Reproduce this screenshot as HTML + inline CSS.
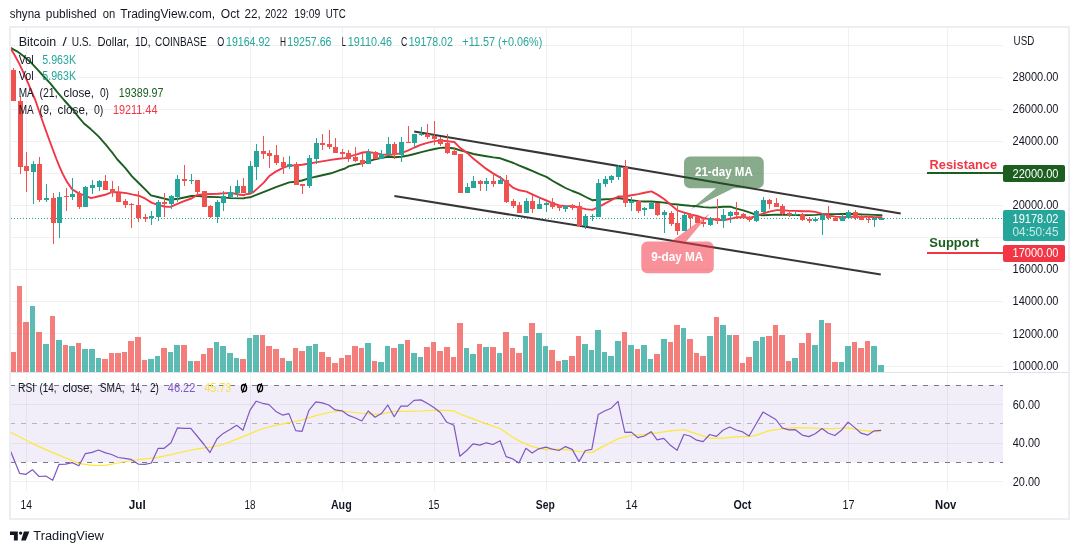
<!DOCTYPE html>
<html><head><meta charset="utf-8"><title>BTCUSD chart</title>
<style>html,body{margin:0;padding:0;background:#fff;}body{width:1079px;height:554px;overflow:hidden;font-family:"Liberation Sans",sans-serif;}svg{display:block;will-change:transform;transform:translateZ(0)}</style>
</head><body>
<svg width="1079" height="554" viewBox="0 0 1079 554" font-family="'Liberation Sans', sans-serif">
<rect width="1079" height="554" fill="#fff"/>
<text x="9.7" y="18.3" font-size="12" fill="#131722" font-weight="normal" text-anchor="start" textLength="30.8" lengthAdjust="spacingAndGlyphs">shyna</text>
<text x="45.8" y="18.3" font-size="12" fill="#131722" font-weight="normal" text-anchor="start" textLength="50.9" lengthAdjust="spacingAndGlyphs">published</text>
<text x="102.8" y="18.3" font-size="12" fill="#131722" font-weight="normal" text-anchor="start" textLength="12.5" lengthAdjust="spacingAndGlyphs">on</text>
<text x="120.3" y="18.3" font-size="12" fill="#131722" font-weight="normal" text-anchor="start" textLength="94.7" lengthAdjust="spacingAndGlyphs">TradingView.com,</text>
<text x="220.8" y="18.3" font-size="12" fill="#131722" font-weight="normal" text-anchor="start" textLength="18.7" lengthAdjust="spacingAndGlyphs">Oct</text>
<text x="244.5" y="18.3" font-size="12" fill="#131722" font-weight="normal" text-anchor="start" textLength="16.3" lengthAdjust="spacingAndGlyphs">22,</text>
<text x="265" y="18.3" font-size="12" fill="#131722" font-weight="normal" text-anchor="start" textLength="22.5" lengthAdjust="spacingAndGlyphs">2022</text>
<text x="294.2" y="18.3" font-size="12" fill="#131722" font-weight="normal" text-anchor="start" textLength="26.1" lengthAdjust="spacingAndGlyphs">19:09</text>
<text x="325.8" y="18.3" font-size="12" fill="#131722" font-weight="normal" text-anchor="start" textLength="20" lengthAdjust="spacingAndGlyphs">UTC</text>
<rect x="10" y="27" width="1059" height="492" fill="#fff" stroke="#eceef4" stroke-width="2"/>
<defs><clipPath id="pane"><rect x="11" y="28" width="992" height="462"/></clipPath><clipPath id="main"><rect x="11" y="28" width="992" height="344"/></clipPath><clipPath id="rsi"><rect x="11" y="373" width="992" height="117"/></clipPath></defs>
<path d="M26.5 28V491 M138.5 28V491 M250.5 28V491 M342.5 28V491 M434.5 28V491 M546.5 28V491 M631.5 28V491 M743.5 28V491 M848.5 28V491 M947.5 28V491" stroke="#2a2e39" stroke-opacity="0.065" stroke-width="1" fill="none" shape-rendering="crispEdges"/>
<path d="M11 45.5H1003 M11 77.5H1003 M11 109.5H1003 M11 141.5H1003 M11 173.5H1003 M11 205.5H1003 M11 237.5H1003 M11 269.5H1003 M11 301.5H1003 M11 333.5H1003 M11 366.5H1003 M11 404.5H1003 M11 443.5H1003 M11 481.5H1003" stroke="#2a2e39" stroke-opacity="0.065" stroke-width="1" fill="none" shape-rendering="crispEdges"/>
<path d="M11 372.5H1068" stroke="#e0e3eb" stroke-width="1" shape-rendering="crispEdges"/>
<rect x="11" y="385" width="992" height="77" fill="#7e57c2" fill-opacity="0.1"/>
<path d="M10 385.5H1003" clip-path="url(#pane)" stroke="#787b86" stroke-width="1" stroke-dasharray="5,6" shape-rendering="crispEdges"/>
<path d="M10 423.5H1003" clip-path="url(#pane)" stroke="#787b86" stroke-opacity="0.5" stroke-width="1" stroke-dasharray="5,6" shape-rendering="crispEdges"/>
<path d="M10 462.5H1003" clip-path="url(#pane)" stroke="#787b86" stroke-width="1" stroke-dasharray="5,6" shape-rendering="crispEdges"/>
<g clip-path="url(#main)" shape-rendering="crispEdges" fill-opacity="0.75">
<rect x="10" y="352" width="6" height="20" fill="#ef5350"/>
<rect x="17" y="286" width="5" height="86" fill="#ef5350"/>
<rect x="23" y="322" width="6" height="50" fill="#ef5350"/>
<rect x="30" y="306" width="5" height="66" fill="#26a69a"/>
<rect x="36" y="332" width="6" height="40" fill="#ef5350"/>
<rect x="43" y="344" width="6" height="28" fill="#26a69a"/>
<rect x="50" y="316" width="5" height="56" fill="#ef5350"/>
<rect x="56" y="340" width="6" height="32" fill="#26a69a"/>
<rect x="63" y="345" width="5" height="27" fill="#ef5350"/>
<rect x="69" y="346" width="6" height="26" fill="#26a69a"/>
<rect x="76" y="343" width="5" height="29" fill="#ef5350"/>
<rect x="82" y="349" width="6" height="23" fill="#26a69a"/>
<rect x="89" y="349" width="6" height="23" fill="#26a69a"/>
<rect x="96" y="358" width="5" height="14" fill="#26a69a"/>
<rect x="102" y="359" width="6" height="13" fill="#ef5350"/>
<rect x="109" y="353" width="5" height="19" fill="#ef5350"/>
<rect x="115" y="353" width="6" height="19" fill="#ef5350"/>
<rect x="122" y="352" width="5" height="20" fill="#ef5350"/>
<rect x="128" y="341" width="6" height="31" fill="#ef5350"/>
<rect x="135" y="337" width="6" height="35" fill="#ef5350"/>
<rect x="142" y="360" width="5" height="12" fill="#ef5350"/>
<rect x="148" y="359" width="6" height="13" fill="#26a69a"/>
<rect x="155" y="356" width="5" height="16" fill="#26a69a"/>
<rect x="161" y="348" width="6" height="24" fill="#ef5350"/>
<rect x="168" y="352" width="5" height="20" fill="#26a69a"/>
<rect x="174" y="345" width="6" height="27" fill="#26a69a"/>
<rect x="181" y="345" width="6" height="27" fill="#ef5350"/>
<rect x="188" y="361" width="5" height="11" fill="#26a69a"/>
<rect x="194" y="361" width="6" height="11" fill="#ef5350"/>
<rect x="201" y="354" width="5" height="18" fill="#ef5350"/>
<rect x="207" y="348" width="6" height="24" fill="#ef5350"/>
<rect x="214" y="342" width="5" height="30" fill="#26a69a"/>
<rect x="220" y="346" width="6" height="26" fill="#26a69a"/>
<rect x="227" y="353" width="6" height="19" fill="#26a69a"/>
<rect x="234" y="358" width="5" height="14" fill="#26a69a"/>
<rect x="240" y="359" width="6" height="13" fill="#ef5350"/>
<rect x="247" y="338" width="5" height="34" fill="#26a69a"/>
<rect x="253" y="335" width="6" height="37" fill="#26a69a"/>
<rect x="260" y="335" width="5" height="37" fill="#ef5350"/>
<rect x="266" y="346" width="6" height="26" fill="#ef5350"/>
<rect x="273" y="349" width="6" height="23" fill="#ef5350"/>
<rect x="280" y="358" width="5" height="14" fill="#ef5350"/>
<rect x="286" y="361" width="6" height="11" fill="#26a69a"/>
<rect x="293" y="348" width="5" height="24" fill="#ef5350"/>
<rect x="299" y="351" width="6" height="21" fill="#ef5350"/>
<rect x="306" y="346" width="6" height="26" fill="#26a69a"/>
<rect x="313" y="344" width="5" height="28" fill="#26a69a"/>
<rect x="319" y="352" width="6" height="20" fill="#ef5350"/>
<rect x="326" y="357" width="5" height="15" fill="#ef5350"/>
<rect x="332" y="363" width="6" height="9" fill="#ef5350"/>
<rect x="339" y="358" width="5" height="14" fill="#ef5350"/>
<rect x="345" y="355" width="6" height="17" fill="#ef5350"/>
<rect x="352" y="346" width="6" height="26" fill="#ef5350"/>
<rect x="359" y="348" width="5" height="24" fill="#ef5350"/>
<rect x="365" y="343" width="6" height="29" fill="#26a69a"/>
<rect x="372" y="361" width="5" height="11" fill="#ef5350"/>
<rect x="378" y="362" width="6" height="10" fill="#26a69a"/>
<rect x="385" y="346" width="5" height="26" fill="#26a69a"/>
<rect x="391" y="348" width="6" height="24" fill="#ef5350"/>
<rect x="398" y="344" width="6" height="28" fill="#26a69a"/>
<rect x="405" y="340" width="5" height="32" fill="#ef5350"/>
<rect x="411" y="353" width="6" height="19" fill="#26a69a"/>
<rect x="418" y="357" width="5" height="15" fill="#26a69a"/>
<rect x="424" y="347" width="6" height="25" fill="#ef5350"/>
<rect x="431" y="342" width="5" height="30" fill="#ef5350"/>
<rect x="437" y="351" width="6" height="21" fill="#ef5350"/>
<rect x="444" y="347" width="6" height="25" fill="#ef5350"/>
<rect x="451" y="357" width="5" height="15" fill="#ef5350"/>
<rect x="457" y="323" width="6" height="49" fill="#ef5350"/>
<rect x="464" y="348" width="5" height="24" fill="#26a69a"/>
<rect x="470" y="354" width="6" height="18" fill="#26a69a"/>
<rect x="477" y="344" width="5" height="28" fill="#ef5350"/>
<rect x="483" y="347" width="6" height="25" fill="#26a69a"/>
<rect x="490" y="347" width="6" height="25" fill="#ef5350"/>
<rect x="497" y="353" width="5" height="19" fill="#26a69a"/>
<rect x="503" y="332" width="6" height="40" fill="#ef5350"/>
<rect x="510" y="348" width="5" height="24" fill="#ef5350"/>
<rect x="516" y="353" width="6" height="19" fill="#ef5350"/>
<rect x="523" y="336" width="5" height="36" fill="#26a69a"/>
<rect x="529" y="323" width="6" height="49" fill="#ef5350"/>
<rect x="536" y="333" width="6" height="39" fill="#26a69a"/>
<rect x="543" y="346" width="5" height="26" fill="#26a69a"/>
<rect x="549" y="350" width="6" height="22" fill="#ef5350"/>
<rect x="556" y="361" width="5" height="11" fill="#ef5350"/>
<rect x="562" y="360" width="6" height="12" fill="#26a69a"/>
<rect x="569" y="356" width="6" height="16" fill="#ef5350"/>
<rect x="576" y="336" width="5" height="36" fill="#ef5350"/>
<rect x="582" y="344" width="6" height="28" fill="#26a69a"/>
<rect x="589" y="350" width="5" height="22" fill="#26a69a"/>
<rect x="595" y="330" width="6" height="42" fill="#26a69a"/>
<rect x="602" y="352" width="5" height="20" fill="#26a69a"/>
<rect x="608" y="356" width="6" height="16" fill="#26a69a"/>
<rect x="615" y="341" width="6" height="31" fill="#26a69a"/>
<rect x="622" y="332" width="5" height="40" fill="#ef5350"/>
<rect x="628" y="345" width="6" height="27" fill="#26a69a"/>
<rect x="635" y="349" width="5" height="23" fill="#ef5350"/>
<rect x="641" y="345" width="6" height="27" fill="#26a69a"/>
<rect x="648" y="359" width="5" height="13" fill="#26a69a"/>
<rect x="654" y="354" width="6" height="18" fill="#ef5350"/>
<rect x="661" y="339" width="6" height="33" fill="#26a69a"/>
<rect x="668" y="342" width="5" height="30" fill="#ef5350"/>
<rect x="674" y="325" width="6" height="47" fill="#ef5350"/>
<rect x="681" y="328" width="5" height="44" fill="#26a69a"/>
<rect x="687" y="339" width="6" height="33" fill="#ef5350"/>
<rect x="694" y="353" width="5" height="19" fill="#ef5350"/>
<rect x="700" y="356" width="6" height="16" fill="#ef5350"/>
<rect x="707" y="336" width="6" height="36" fill="#26a69a"/>
<rect x="714" y="317" width="5" height="55" fill="#ef5350"/>
<rect x="720" y="325" width="6" height="47" fill="#26a69a"/>
<rect x="727" y="335" width="5" height="37" fill="#26a69a"/>
<rect x="733" y="335" width="6" height="37" fill="#ef5350"/>
<rect x="740" y="363" width="5" height="9" fill="#ef5350"/>
<rect x="746" y="357" width="6" height="15" fill="#ef5350"/>
<rect x="753" y="341" width="6" height="31" fill="#26a69a"/>
<rect x="760" y="337" width="5" height="35" fill="#26a69a"/>
<rect x="766" y="336" width="6" height="36" fill="#ef5350"/>
<rect x="773" y="325" width="5" height="47" fill="#ef5350"/>
<rect x="779" y="335" width="6" height="37" fill="#ef5350"/>
<rect x="786" y="361" width="5" height="11" fill="#ef5350"/>
<rect x="792" y="358" width="6" height="14" fill="#26a69a"/>
<rect x="799" y="343" width="6" height="29" fill="#ef5350"/>
<rect x="806" y="333" width="5" height="39" fill="#ef5350"/>
<rect x="812" y="345" width="6" height="27" fill="#26a69a"/>
<rect x="819" y="320" width="5" height="52" fill="#26a69a"/>
<rect x="825" y="323" width="6" height="49" fill="#ef5350"/>
<rect x="832" y="362" width="6" height="10" fill="#ef5350"/>
<rect x="839" y="362" width="5" height="10" fill="#26a69a"/>
<rect x="845" y="346" width="6" height="26" fill="#26a69a"/>
<rect x="852" y="342" width="5" height="30" fill="#ef5350"/>
<rect x="858" y="348" width="6" height="24" fill="#ef5350"/>
<rect x="865" y="341" width="5" height="31" fill="#ef5350"/>
<rect x="871" y="346" width="6" height="26" fill="#26a69a"/>
<rect x="878" y="365" width="6" height="7" fill="#26a69a"/>
</g>
<path d="M11 218.5H1003" stroke="#26a69a" stroke-width="1" stroke-dasharray="1,2" shape-rendering="crispEdges"/>
<path d="M10.5 47.9 L17.0 51.3 L23.7 56.3 L30.4 61.9 L37.1 69.2 L43.8 76.5 L50.5 83.7 L57.3 92.1 L64.0 100.0 L68.5 105.0 L72.8 109.5 L78.4 116.8 L84.0 123.5 L90.7 129.1 L98.5 136.4 L106.4 145.3 L110.1 150.0 L113.1 153.7 L117.4 159.5 L125.2 167.9 L132.0 176.3 L138.7 183.0 L145.4 189.7 L151.0 195.3 L157.7 197.0 L164.4 198.7 L168.0 199.5 L169.1 199.8 L178.4 198.7 L191.4 196.0 L197.4 195.8 L204.9 196.8 L217.9 197.1 L230.9 198.1 L243.9 198.4 L245.0 197.9 L250.1 197.3 L257.6 194.4 L264.0 191.8 L270.3 189.3 L276.6 186.8 L282.9 184.6 L289.2 182.4 L295.6 181.7 L301.9 180.5 L308.2 178.6 L315.8 176.7 L323.4 175.0 L331.0 173.3 L338.6 170.7 L345.0 168.5 L348.6 166.4 L355.4 164.6 L362.5 163.2 L368.4 161.4 L375.3 159.2 L381.5 157.9 L388.4 156.8 L394.5 157.2 L401.4 156.8 L408.3 155.5 L414.4 154.0 L421.3 152.2 L427.4 150.7 L434.5 149.0 L440.4 147.9 L447.3 147.5 L454.3 148.5 L460.3 150.3 L467.4 152.2 L473.5 154.0 L480.4 155.3 L486.3 156.3 L493.4 157.4 L500.4 158.3 L506.4 160.5 L513.5 163.0 L519.4 165.6 L526.5 168.5 L532.8 171.1 L539.5 174.1 L546.4 176.9 L552.9 181.0 L559.4 184.7 L565.5 188.0 L572.4 191.0 L579.3 193.7 L585.8 197.0 L592.3 200.2 L598.3 199.8 L605.3 199.3 L611.3 198.9 L618.3 198.0 L625.4 199.3 L631.3 200.2 L638.4 201.1 L644.3 201.5 L651.4 201.5 L657.4 202.0 L664.4 202.6 L671.3 203.9 L677.4 204.5 L684.3 205.2 L690.4 205.8 L697.3 206.3 L703.5 207.1 L710.3 207.6 L717.4 207.2 L723.3 206.7 L730.2 206.7 L736.4 208.6 L743.2 210.4 L749.4 212.3 L756.4 214.8 L763.5 215.2 L776.5 214.6 L789.4 214.9 L802.5 215.3 L815.5 214.9 L822.5 214.1 L835.6 214.1 L848.5 213.8 L861.5 214.4 L874.4 214.9 L881.6 215.2" stroke="#1b5e20" stroke-width="1.9" fill="none" stroke-linejoin="round" stroke-linecap="round" clip-path="url(#main)"/>
<path d="M10.5 48.5 L14.7 55.2 L19.2 63.6 L23.7 73.1 L28.1 83.2 L32.6 93.8 L35.3 100.0 L39.2 111.5 L43.7 124.5 L48.2 137.0 L53.0 150.0 L56.4 159.0 L59.8 167.4 L63.1 174.6 L67.0 181.9 L72.1 189.2 L78.2 193.1 L85.5 195.9 L91.1 198.1 L97.8 196.5 L105.1 194.8 L111.2 192.3 L118.5 192.3 L126.4 193.1 L133.1 194.6 L138.7 195.7 L145.4 198.7 L151.5 202.6 L157.7 204.9 L164.4 206.5 L168.0 206.9 L171.0 206.7 L177.5 203.9 L184.0 201.1 L191.4 198.5 L197.4 195.0 L204.9 194.3 L217.9 193.8 L230.9 192.9 L237.4 194.3 L243.9 195.3 L245.0 194.4 L250.1 193.7 L252.6 192.7 L257.6 188.4 L264.0 182.4 L269.0 176.3 L275.3 171.9 L282.9 167.8 L289.2 165.7 L295.6 165.3 L301.9 164.7 L308.2 163.8 L315.8 162.4 L323.4 161.1 L331.0 159.9 L338.6 158.7 L345.0 158.1 L348.6 156.6 L355.4 154.8 L362.5 152.5 L368.4 152.0 L375.3 153.1 L381.5 154.4 L388.4 155.0 L394.5 154.4 L401.4 153.1 L408.3 150.3 L414.4 147.5 L421.3 144.7 L427.4 142.8 L434.5 141.1 L440.9 140.6 L447.5 141.3 L454.3 142.0 L460.3 148.1 L467.4 153.1 L473.5 158.7 L480.4 164.3 L486.3 168.9 L493.4 173.6 L500.4 177.6 L506.4 182.3 L513.5 187.9 L519.4 190.3 L526.5 191.6 L532.8 194.6 L539.5 197.7 L546.4 200.5 L552.9 203.3 L559.4 205.5 L565.5 206.1 L572.4 206.1 L579.3 207.6 L585.8 209.1 L592.3 209.9 L598.3 207.1 L605.3 203.3 L611.3 200.2 L618.3 196.5 L625.4 196.5 L631.3 195.2 L638.4 194.1 L644.3 192.8 L651.4 191.4 L657.4 194.6 L664.4 199.3 L671.3 205.2 L677.4 210.4 L684.3 212.6 L690.4 214.5 L697.3 216.0 L703.5 218.2 L710.3 219.1 L717.4 219.7 L723.3 220.3 L730.2 218.8 L736.4 217.3 L743.2 217.3 L749.4 217.8 L756.4 216.0 L763.5 213.4 L769.5 211.6 L776.5 210.1 L782.4 210.1 L789.4 210.9 L795.4 210.9 L802.5 211.2 L809.2 211.2 L815.5 211.9 L822.5 213.8 L828.7 215.6 L835.6 216.6 L842.5 217.1 L848.5 216.8 L855.6 216.6 L861.5 216.8 L868.5 216.8 L874.4 217.1 L881.6 217.1" stroke="#f23645" stroke-width="1.9" fill="none" stroke-linejoin="round" stroke-linecap="round" clip-path="url(#main)"/>
<path d="M414.2 131.6L900.7 213.6" stroke="#363636" stroke-width="2.05" stroke-linecap="butt"/>
<path d="M394.4 196.0L880.8 274.4" stroke="#363636" stroke-width="2.05" stroke-linecap="butt"/>
<path d="M690 156.6H757.8a6 6 0 0 1 6 6V182.3a6 6 0 0 1 -6 6H733.4L690.8 209.2L716 188.3H690a6 6 0 0 1 -6 -6V162.6a6 6 0 0 1 6 -6Z" fill="#1b5e20" fill-opacity="0.52"/>
<text x="723.9" y="175.8" font-size="12" fill="#fff" font-weight="bold" text-anchor="middle" textLength="57.8" lengthAdjust="spacingAndGlyphs">21-day MA</text>
<path d="M647.3 241.5H671.1L710 213.3L686.3 241.5H707.8a6 6 0 0 1 6 6V267.2a6 6 0 0 1 -6 6H647.3a6 6 0 0 1 -6 -6V247.5a6 6 0 0 1 6 -6Z" fill="#f23645" fill-opacity="0.55"/>
<text x="677.2" y="260.8" font-size="12" fill="#fff" font-weight="bold" text-anchor="middle" textLength="52.1" lengthAdjust="spacingAndGlyphs">9-day MA</text>
<g clip-path="url(#main)" shape-rendering="crispEdges">
<rect x="13" y="68" width="1" height="33" fill="#ef5350"/>
<rect x="11" y="70" width="5" height="31" fill="#ef5350"/>
<rect x="20" y="96" width="1" height="78" fill="#ef5350"/>
<rect x="18" y="101" width="5" height="66" fill="#ef5350"/>
<rect x="26" y="152" width="1" height="40" fill="#ef5350"/>
<rect x="24" y="166" width="5" height="5" fill="#ef5350"/>
<rect x="33" y="161" width="1" height="43" fill="#26a69a"/>
<rect x="31" y="164" width="5" height="8" fill="#26a69a"/>
<rect x="39" y="157" width="1" height="45" fill="#ef5350"/>
<rect x="37" y="164" width="5" height="36" fill="#ef5350"/>
<rect x="46" y="184" width="1" height="18" fill="#26a69a"/>
<rect x="44" y="198" width="5" height="2" fill="#26a69a"/>
<rect x="53" y="193" width="1" height="51" fill="#ef5350"/>
<rect x="51" y="198" width="5" height="25" fill="#ef5350"/>
<rect x="59" y="192" width="1" height="46" fill="#26a69a"/>
<rect x="57" y="197" width="5" height="26" fill="#26a69a"/>
<rect x="66" y="188" width="1" height="23" fill="#ef5350"/>
<rect x="64" y="196" width="5" height="1" fill="#ef5350"/>
<rect x="72" y="178" width="1" height="22" fill="#26a69a"/>
<rect x="70" y="194" width="5" height="3" fill="#26a69a"/>
<rect x="79" y="191" width="1" height="18" fill="#ef5350"/>
<rect x="77" y="194" width="5" height="13" fill="#ef5350"/>
<rect x="85" y="186" width="1" height="21" fill="#26a69a"/>
<rect x="83" y="187" width="5" height="20" fill="#26a69a"/>
<rect x="92" y="180" width="1" height="14" fill="#26a69a"/>
<rect x="90" y="185" width="5" height="3" fill="#26a69a"/>
<rect x="99" y="180" width="1" height="11" fill="#26a69a"/>
<rect x="97" y="181" width="5" height="6" fill="#26a69a"/>
<rect x="105" y="175" width="1" height="15" fill="#ef5350"/>
<rect x="103" y="181" width="5" height="9" fill="#ef5350"/>
<rect x="112" y="181" width="1" height="16" fill="#ef5350"/>
<rect x="110" y="189" width="5" height="4" fill="#ef5350"/>
<rect x="118" y="186" width="1" height="16" fill="#ef5350"/>
<rect x="116" y="193" width="5" height="9" fill="#ef5350"/>
<rect x="125" y="199" width="1" height="9" fill="#ef5350"/>
<rect x="123" y="201" width="5" height="4" fill="#ef5350"/>
<rect x="131" y="203" width="1" height="25" fill="#ef5350"/>
<rect x="129" y="204" width="5" height="1" fill="#ef5350"/>
<rect x="138" y="191" width="1" height="31" fill="#ef5350"/>
<rect x="136" y="205" width="5" height="13" fill="#ef5350"/>
<rect x="145" y="214" width="1" height="8" fill="#ef5350"/>
<rect x="143" y="217" width="5" height="2" fill="#ef5350"/>
<rect x="151" y="211" width="1" height="14" fill="#26a69a"/>
<rect x="149" y="216" width="5" height="2" fill="#26a69a"/>
<rect x="158" y="200" width="1" height="21" fill="#26a69a"/>
<rect x="156" y="202" width="5" height="15" fill="#26a69a"/>
<rect x="164" y="193" width="1" height="24" fill="#ef5350"/>
<rect x="162" y="202" width="5" height="2" fill="#ef5350"/>
<rect x="171" y="195" width="1" height="14" fill="#26a69a"/>
<rect x="169" y="196" width="5" height="8" fill="#26a69a"/>
<rect x="177" y="175" width="1" height="27" fill="#26a69a"/>
<rect x="175" y="179" width="5" height="18" fill="#26a69a"/>
<rect x="184" y="165" width="1" height="21" fill="#ef5350"/>
<rect x="182" y="179" width="5" height="2" fill="#ef5350"/>
<rect x="191" y="174" width="1" height="10" fill="#26a69a"/>
<rect x="189" y="180" width="5" height="1" fill="#26a69a"/>
<rect x="197" y="180" width="1" height="15" fill="#ef5350"/>
<rect x="195" y="180" width="5" height="12" fill="#ef5350"/>
<rect x="204" y="191" width="1" height="16" fill="#ef5350"/>
<rect x="202" y="191" width="5" height="16" fill="#ef5350"/>
<rect x="210" y="205" width="1" height="13" fill="#ef5350"/>
<rect x="208" y="206" width="5" height="11" fill="#ef5350"/>
<rect x="217" y="200" width="1" height="23" fill="#26a69a"/>
<rect x="215" y="202" width="5" height="15" fill="#26a69a"/>
<rect x="223" y="191" width="1" height="20" fill="#26a69a"/>
<rect x="221" y="196" width="5" height="7" fill="#26a69a"/>
<rect x="230" y="186" width="1" height="12" fill="#26a69a"/>
<rect x="228" y="192" width="5" height="5" fill="#26a69a"/>
<rect x="237" y="180" width="1" height="17" fill="#26a69a"/>
<rect x="235" y="186" width="5" height="7" fill="#26a69a"/>
<rect x="243" y="178" width="1" height="15" fill="#ef5350"/>
<rect x="241" y="186" width="5" height="7" fill="#ef5350"/>
<rect x="250" y="161" width="1" height="32" fill="#26a69a"/>
<rect x="248" y="166" width="5" height="27" fill="#26a69a"/>
<rect x="256" y="144" width="1" height="36" fill="#26a69a"/>
<rect x="254" y="151" width="5" height="16" fill="#26a69a"/>
<rect x="263" y="136" width="1" height="23" fill="#ef5350"/>
<rect x="261" y="151" width="5" height="3" fill="#ef5350"/>
<rect x="269" y="150" width="1" height="18" fill="#ef5350"/>
<rect x="267" y="153" width="5" height="3" fill="#ef5350"/>
<rect x="276" y="145" width="1" height="20" fill="#ef5350"/>
<rect x="274" y="155" width="5" height="8" fill="#ef5350"/>
<rect x="283" y="157" width="1" height="17" fill="#ef5350"/>
<rect x="281" y="162" width="5" height="5" fill="#ef5350"/>
<rect x="289" y="156" width="1" height="13" fill="#26a69a"/>
<rect x="287" y="164" width="5" height="3" fill="#26a69a"/>
<rect x="296" y="162" width="1" height="23" fill="#ef5350"/>
<rect x="294" y="164" width="5" height="21" fill="#ef5350"/>
<rect x="302" y="184" width="1" height="10" fill="#ef5350"/>
<rect x="300" y="184" width="5" height="2" fill="#ef5350"/>
<rect x="309" y="155" width="1" height="33" fill="#26a69a"/>
<rect x="307" y="158" width="5" height="28" fill="#26a69a"/>
<rect x="316" y="138" width="1" height="26" fill="#26a69a"/>
<rect x="314" y="143" width="5" height="16" fill="#26a69a"/>
<rect x="322" y="134" width="1" height="16" fill="#ef5350"/>
<rect x="320" y="143" width="5" height="2" fill="#ef5350"/>
<rect x="329" y="130" width="1" height="19" fill="#ef5350"/>
<rect x="327" y="144" width="5" height="3" fill="#ef5350"/>
<rect x="335" y="138" width="1" height="15" fill="#ef5350"/>
<rect x="333" y="147" width="5" height="6" fill="#ef5350"/>
<rect x="342" y="149" width="1" height="10" fill="#ef5350"/>
<rect x="340" y="152" width="5" height="2" fill="#ef5350"/>
<rect x="348" y="150" width="1" height="12" fill="#ef5350"/>
<rect x="346" y="153" width="5" height="6" fill="#ef5350"/>
<rect x="355" y="147" width="1" height="15" fill="#ef5350"/>
<rect x="353" y="157" width="5" height="4" fill="#ef5350"/>
<rect x="362" y="153" width="1" height="14" fill="#ef5350"/>
<rect x="360" y="160" width="5" height="4" fill="#ef5350"/>
<rect x="368" y="149" width="1" height="15" fill="#26a69a"/>
<rect x="366" y="152" width="5" height="12" fill="#26a69a"/>
<rect x="375" y="151" width="1" height="8" fill="#ef5350"/>
<rect x="373" y="152" width="5" height="7" fill="#ef5350"/>
<rect x="381" y="150" width="1" height="9" fill="#26a69a"/>
<rect x="379" y="154" width="5" height="5" fill="#26a69a"/>
<rect x="388" y="137" width="1" height="18" fill="#26a69a"/>
<rect x="386" y="144" width="5" height="11" fill="#26a69a"/>
<rect x="394" y="142" width="1" height="17" fill="#ef5350"/>
<rect x="392" y="144" width="5" height="11" fill="#ef5350"/>
<rect x="401" y="137" width="1" height="25" fill="#26a69a"/>
<rect x="399" y="142" width="5" height="13" fill="#26a69a"/>
<rect x="408" y="126" width="1" height="17" fill="#ef5350"/>
<rect x="406" y="142" width="5" height="1" fill="#ef5350"/>
<rect x="414" y="134" width="1" height="13" fill="#26a69a"/>
<rect x="412" y="134" width="5" height="9" fill="#26a69a"/>
<rect x="421" y="127" width="1" height="9" fill="#26a69a"/>
<rect x="419" y="134" width="5" height="1" fill="#26a69a"/>
<rect x="427" y="124" width="1" height="15" fill="#ef5350"/>
<rect x="425" y="134" width="5" height="3" fill="#ef5350"/>
<rect x="434" y="121" width="1" height="24" fill="#ef5350"/>
<rect x="432" y="136" width="5" height="3" fill="#ef5350"/>
<rect x="440" y="137" width="1" height="9" fill="#ef5350"/>
<rect x="438" y="139" width="5" height="5" fill="#ef5350"/>
<rect x="447" y="134" width="1" height="20" fill="#ef5350"/>
<rect x="445" y="143" width="5" height="10" fill="#ef5350"/>
<rect x="454" y="147" width="1" height="8" fill="#ef5350"/>
<rect x="452" y="151" width="5" height="4" fill="#ef5350"/>
<rect x="460" y="154" width="1" height="39" fill="#ef5350"/>
<rect x="458" y="154" width="5" height="39" fill="#ef5350"/>
<rect x="467" y="183" width="1" height="10" fill="#26a69a"/>
<rect x="465" y="187" width="5" height="6" fill="#26a69a"/>
<rect x="473" y="176" width="1" height="12" fill="#26a69a"/>
<rect x="471" y="181" width="5" height="7" fill="#26a69a"/>
<rect x="480" y="180" width="1" height="11" fill="#ef5350"/>
<rect x="478" y="181" width="5" height="3" fill="#ef5350"/>
<rect x="486" y="178" width="1" height="13" fill="#26a69a"/>
<rect x="484" y="181" width="5" height="3" fill="#26a69a"/>
<rect x="493" y="174" width="1" height="13" fill="#ef5350"/>
<rect x="491" y="181" width="5" height="3" fill="#ef5350"/>
<rect x="500" y="176" width="1" height="8" fill="#26a69a"/>
<rect x="498" y="180" width="5" height="4" fill="#26a69a"/>
<rect x="506" y="175" width="1" height="28" fill="#ef5350"/>
<rect x="504" y="180" width="5" height="22" fill="#ef5350"/>
<rect x="513" y="199" width="1" height="9" fill="#ef5350"/>
<rect x="511" y="201" width="5" height="5" fill="#ef5350"/>
<rect x="519" y="202" width="1" height="11" fill="#ef5350"/>
<rect x="517" y="205" width="5" height="8" fill="#ef5350"/>
<rect x="526" y="198" width="1" height="15" fill="#26a69a"/>
<rect x="524" y="201" width="5" height="12" fill="#26a69a"/>
<rect x="532" y="195" width="1" height="18" fill="#ef5350"/>
<rect x="530" y="201" width="5" height="8" fill="#ef5350"/>
<rect x="539" y="197" width="1" height="12" fill="#26a69a"/>
<rect x="537" y="204" width="5" height="5" fill="#26a69a"/>
<rect x="546" y="202" width="1" height="10" fill="#26a69a"/>
<rect x="544" y="203" width="5" height="2" fill="#26a69a"/>
<rect x="552" y="198" width="1" height="11" fill="#ef5350"/>
<rect x="550" y="202" width="5" height="5" fill="#ef5350"/>
<rect x="559" y="205" width="1" height="6" fill="#ef5350"/>
<rect x="557" y="205" width="5" height="3" fill="#ef5350"/>
<rect x="565" y="205" width="1" height="7" fill="#26a69a"/>
<rect x="563" y="206" width="5" height="3" fill="#26a69a"/>
<rect x="572" y="204" width="1" height="6" fill="#ef5350"/>
<rect x="570" y="205" width="5" height="3" fill="#ef5350"/>
<rect x="579" y="202" width="1" height="25" fill="#ef5350"/>
<rect x="577" y="206" width="5" height="20" fill="#ef5350"/>
<rect x="585" y="214" width="1" height="15" fill="#26a69a"/>
<rect x="583" y="216" width="5" height="10" fill="#26a69a"/>
<rect x="592" y="214" width="1" height="7" fill="#26a69a"/>
<rect x="590" y="216" width="5" height="1" fill="#26a69a"/>
<rect x="598" y="179" width="1" height="38" fill="#26a69a"/>
<rect x="596" y="183" width="5" height="34" fill="#26a69a"/>
<rect x="605" y="176" width="1" height="11" fill="#26a69a"/>
<rect x="603" y="179" width="5" height="5" fill="#26a69a"/>
<rect x="611" y="175" width="1" height="8" fill="#26a69a"/>
<rect x="609" y="176" width="5" height="4" fill="#26a69a"/>
<rect x="618" y="165" width="1" height="15" fill="#26a69a"/>
<rect x="616" y="167" width="5" height="10" fill="#26a69a"/>
<rect x="625" y="160" width="1" height="47" fill="#ef5350"/>
<rect x="623" y="167" width="5" height="36" fill="#ef5350"/>
<rect x="631" y="197" width="1" height="14" fill="#26a69a"/>
<rect x="629" y="201" width="5" height="2" fill="#26a69a"/>
<rect x="638" y="200" width="1" height="13" fill="#ef5350"/>
<rect x="636" y="201" width="5" height="10" fill="#ef5350"/>
<rect x="644" y="207" width="1" height="9" fill="#26a69a"/>
<rect x="642" y="208" width="5" height="2" fill="#26a69a"/>
<rect x="651" y="202" width="1" height="7" fill="#26a69a"/>
<rect x="649" y="203" width="5" height="6" fill="#26a69a"/>
<rect x="657" y="203" width="1" height="13" fill="#ef5350"/>
<rect x="655" y="203" width="5" height="12" fill="#ef5350"/>
<rect x="664" y="210" width="1" height="23" fill="#26a69a"/>
<rect x="662" y="212" width="5" height="3" fill="#26a69a"/>
<rect x="671" y="211" width="1" height="15" fill="#ef5350"/>
<rect x="669" y="213" width="5" height="11" fill="#ef5350"/>
<rect x="677" y="206" width="1" height="29" fill="#ef5350"/>
<rect x="675" y="223" width="5" height="8" fill="#ef5350"/>
<rect x="684" y="213" width="1" height="18" fill="#26a69a"/>
<rect x="682" y="215" width="5" height="16" fill="#26a69a"/>
<rect x="690" y="213" width="1" height="15" fill="#ef5350"/>
<rect x="688" y="214" width="5" height="4" fill="#ef5350"/>
<rect x="697" y="216" width="1" height="7" fill="#ef5350"/>
<rect x="695" y="217" width="5" height="6" fill="#ef5350"/>
<rect x="703" y="219" width="1" height="8" fill="#ef5350"/>
<rect x="701" y="222" width="5" height="2" fill="#ef5350"/>
<rect x="710" y="217" width="1" height="9" fill="#26a69a"/>
<rect x="708" y="218" width="5" height="7" fill="#26a69a"/>
<rect x="717" y="199" width="1" height="25" fill="#ef5350"/>
<rect x="715" y="218" width="5" height="3" fill="#ef5350"/>
<rect x="723" y="209" width="1" height="19" fill="#26a69a"/>
<rect x="721" y="215" width="5" height="6" fill="#26a69a"/>
<rect x="730" y="211" width="1" height="12" fill="#26a69a"/>
<rect x="728" y="212" width="5" height="4" fill="#26a69a"/>
<rect x="736" y="202" width="1" height="17" fill="#ef5350"/>
<rect x="734" y="212" width="5" height="3" fill="#ef5350"/>
<rect x="743" y="213" width="1" height="5" fill="#ef5350"/>
<rect x="741" y="214" width="5" height="4" fill="#ef5350"/>
<rect x="749" y="216" width="1" height="6" fill="#ef5350"/>
<rect x="747" y="217" width="5" height="3" fill="#ef5350"/>
<rect x="756" y="210" width="1" height="12" fill="#26a69a"/>
<rect x="754" y="211" width="5" height="10" fill="#26a69a"/>
<rect x="763" y="197" width="1" height="16" fill="#26a69a"/>
<rect x="761" y="200" width="5" height="12" fill="#26a69a"/>
<rect x="769" y="199" width="1" height="10" fill="#ef5350"/>
<rect x="767" y="200" width="5" height="4" fill="#ef5350"/>
<rect x="776" y="198" width="1" height="9" fill="#ef5350"/>
<rect x="774" y="203" width="5" height="4" fill="#ef5350"/>
<rect x="782" y="204" width="1" height="12" fill="#ef5350"/>
<rect x="780" y="206" width="5" height="8" fill="#ef5350"/>
<rect x="789" y="212" width="1" height="5" fill="#ef5350"/>
<rect x="787" y="213" width="5" height="2" fill="#ef5350"/>
<rect x="795" y="212" width="1" height="4" fill="#26a69a"/>
<rect x="793" y="214" width="5" height="1" fill="#26a69a"/>
<rect x="802" y="213" width="1" height="8" fill="#ef5350"/>
<rect x="800" y="214" width="5" height="6" fill="#ef5350"/>
<rect x="809" y="217" width="1" height="6" fill="#ef5350"/>
<rect x="807" y="219" width="5" height="2" fill="#ef5350"/>
<rect x="815" y="217" width="1" height="5" fill="#26a69a"/>
<rect x="813" y="219" width="5" height="2" fill="#26a69a"/>
<rect x="822" y="213" width="1" height="22" fill="#26a69a"/>
<rect x="820" y="215" width="5" height="5" fill="#26a69a"/>
<rect x="828" y="206" width="1" height="14" fill="#ef5350"/>
<rect x="826" y="215" width="5" height="3" fill="#ef5350"/>
<rect x="835" y="217" width="1" height="4" fill="#ef5350"/>
<rect x="833" y="218" width="5" height="3" fill="#ef5350"/>
<rect x="842" y="214" width="1" height="7" fill="#26a69a"/>
<rect x="840" y="217" width="5" height="4" fill="#26a69a"/>
<rect x="848" y="210" width="1" height="9" fill="#26a69a"/>
<rect x="846" y="212" width="5" height="6" fill="#26a69a"/>
<rect x="855" y="210" width="1" height="10" fill="#ef5350"/>
<rect x="853" y="212" width="5" height="6" fill="#ef5350"/>
<rect x="861" y="215" width="1" height="5" fill="#ef5350"/>
<rect x="859" y="216" width="5" height="4" fill="#ef5350"/>
<rect x="868" y="216" width="1" height="7" fill="#ef5350"/>
<rect x="866" y="219" width="5" height="1" fill="#ef5350"/>
<rect x="874" y="217" width="1" height="10" fill="#26a69a"/>
<rect x="872" y="218" width="5" height="2" fill="#26a69a"/>
<rect x="881" y="218" width="1" height="2" fill="#26a69a"/>
<rect x="879" y="218" width="5" height="2" fill="#26a69a"/>
</g>
<path d="M10.2 432.0 L26.0 440.2 L39.0 446.6 L52.7 452.6 L65.7 457.9 L78.9 463.3 L92.1 465.4 L104.9 465.4 L118.3 463.0 L131.1 460.5 L145.0 458.8 L158.2 457.3 L171.0 454.7 L184.4 451.5 L197.2 448.8 L210.0 447.3 L223.2 444.5 L236.6 439.2 L249.9 433.8 L262.6 428.5 L275.9 425.3 L288.9 422.7 L302.1 420.0 L315.9 415.7 L328.7 412.5 L342.0 411.0 L354.8 412.5 L368.2 414.0 L381.4 414.0 L394.2 411.4 L407.6 411.4 L420.9 411.0 L433.9 410.4 L446.0 410.4 L453.9 410.8 L459.8 414.0 L473.0 418.9 L486.3 423.8 L500.1 428.5 L512.5 437.0 L518.9 440.9 L532.1 446.6 L546.0 449.8 L559.0 449.2 L572.2 450.3 L579.0 451.5 L591.8 452.6 L604.6 445.6 L618.0 438.7 L631.3 435.5 L644.3 434.3 L657.1 432.8 L670.7 430.8 L683.9 429.6 L696.7 433.8 L709.7 438.1 L722.9 438.1 L736.1 436.8 L749.1 436.4 L755.9 435.3 L769.4 430.6 L782.2 428.9 L795.0 427.6 L808.8 427.9 L822.0 428.5 L834.8 428.5 L848.1 427.9 L861.1 430.2 L874.3 431.7 L880.7 431.7" stroke="#fde73a" stroke-width="1.25" fill="none" stroke-linejoin="round" stroke-linecap="round" clip-path="url(#rsi)"/>
<path d="M10.2 450.5 L19.6 473.3 L26.0 474.3 L32.4 469.7 L39.0 476.5 L45.8 476.1 L52.7 480.3 L59.1 464.3 L65.7 464.1 L72.1 462.6 L78.9 465.8 L85.3 453.7 L92.1 452.4 L98.5 450.0 L104.9 452.6 L111.5 454.5 L118.3 457.5 L124.7 458.4 L131.1 459.4 L138.2 464.1 L145.0 464.3 L151.4 463.0 L158.2 448.3 L164.2 448.3 L171.0 442.8 L177.4 427.9 L184.4 428.3 L190.8 428.3 L197.5 436.5 L204.0 444.5 L210.0 452.6 L217.1 438.7 L223.2 433.4 L230.0 429.6 L236.6 425.3 L243.0 430.2 L249.9 410.4 L256.2 401.2 L262.6 403.3 L269.0 404.6 L275.9 411.4 L282.5 415.1 L288.9 413.6 L295.7 430.6 L302.1 431.3 L308.9 410.4 L315.9 401.9 L322.3 402.9 L328.7 405.0 L335.1 409.9 L342.0 410.8 L347.9 415.1 L354.8 417.8 L361.8 421.0 L368.2 411.0 L375.0 417.2 L381.4 413.6 L387.8 405.0 L394.2 416.8 L400.8 406.1 L407.6 406.1 L414.0 400.4 L420.9 399.9 L427.2 403.3 L433.9 407.6 L440.3 412.5 L446.8 422.3 L453.9 425.3 L459.8 456.2 L466.7 450.5 L473.0 443.9 L479.9 445.1 L486.3 442.8 L492.9 444.5 L500.1 440.7 L506.1 456.6 L512.5 458.8 L518.9 463.0 L525.9 448.3 L532.1 453.0 L538.7 448.8 L546.0 447.1 L552.6 449.2 L559.0 450.5 L565.4 446.6 L572.2 449.4 L579.0 461.6 L585.4 450.5 L591.8 449.4 L598.2 414.6 L604.6 411.0 L611.2 408.2 L618.0 401.4 L624.9 432.3 L631.3 432.1 L637.9 437.7 L644.3 436.0 L651.1 431.7 L657.1 439.8 L663.8 438.3 L670.7 445.6 L677.1 450.3 L683.9 434.5 L689.9 436.0 L696.7 440.2 L703.1 441.7 L709.7 434.5 L716.5 436.4 L722.9 430.2 L729.7 427.0 L736.1 430.0 L742.7 431.9 L749.1 436.0 L755.9 424.2 L763.0 412.1 L769.4 415.7 L775.8 419.5 L782.2 427.9 L788.6 429.8 L795.0 429.6 L802.2 435.1 L808.8 436.6 L815.2 433.8 L822.0 428.5 L828.4 433.2 L834.8 435.5 L841.7 430.0 L848.1 422.1 L854.5 427.4 L861.1 433.2 L867.9 435.1 L874.3 430.8 L880.7 430.4" stroke="#7e57c2" stroke-width="1.2" fill="none" stroke-linejoin="round" stroke-linecap="round" clip-path="url(#rsi)"/>
<path d="M927 173H1003" stroke="#1b5e20" stroke-width="2" shape-rendering="crispEdges"/>
<text x="929.6" y="168.5" font-size="12.5" fill="#f23645" font-weight="bold" text-anchor="start" textLength="67.4" lengthAdjust="spacingAndGlyphs">Resistance</text>
<path d="M927 253H1003" stroke="#f23645" stroke-width="2" shape-rendering="crispEdges"/>
<text x="929.3" y="246.5" font-size="12.5" fill="#1b5e20" font-weight="bold" text-anchor="start" textLength="49.8" lengthAdjust="spacingAndGlyphs">Support</text>
<text x="1012.5" y="80.7" font-size="12" fill="#131722" font-weight="normal" text-anchor="start" textLength="46" lengthAdjust="spacingAndGlyphs">28000.00</text>
<text x="1012.5" y="112.8" font-size="12" fill="#131722" font-weight="normal" text-anchor="start" textLength="46" lengthAdjust="spacingAndGlyphs">26000.00</text>
<text x="1012.5" y="144.9" font-size="12" fill="#131722" font-weight="normal" text-anchor="start" textLength="46" lengthAdjust="spacingAndGlyphs">24000.00</text>
<text x="1012.5" y="177.0" font-size="12" fill="#131722" font-weight="normal" text-anchor="start" textLength="46" lengthAdjust="spacingAndGlyphs">22000.00</text>
<text x="1012.5" y="209.1" font-size="12" fill="#131722" font-weight="normal" text-anchor="start" textLength="46" lengthAdjust="spacingAndGlyphs">20000.00</text>
<text x="1012.5" y="241.2" font-size="12" fill="#131722" font-weight="normal" text-anchor="start" textLength="46" lengthAdjust="spacingAndGlyphs">18000.00</text>
<text x="1012.5" y="273.3" font-size="12" fill="#131722" font-weight="normal" text-anchor="start" textLength="46" lengthAdjust="spacingAndGlyphs">16000.00</text>
<text x="1012.5" y="305.4" font-size="12" fill="#131722" font-weight="normal" text-anchor="start" textLength="46" lengthAdjust="spacingAndGlyphs">14000.00</text>
<text x="1012.5" y="337.5" font-size="12" fill="#131722" font-weight="normal" text-anchor="start" textLength="46" lengthAdjust="spacingAndGlyphs">12000.00</text>
<text x="1012.5" y="369.6" font-size="12" fill="#131722" font-weight="normal" text-anchor="start" textLength="46" lengthAdjust="spacingAndGlyphs">10000.00</text>
<text x="1013.6" y="44.6" font-size="12" fill="#131722" font-weight="normal" text-anchor="start" textLength="20.6" lengthAdjust="spacingAndGlyphs">USD</text>
<text x="1012.8" y="408.7" font-size="12" fill="#131722" font-weight="normal" text-anchor="start" textLength="27.3" lengthAdjust="spacingAndGlyphs">60.00</text>
<text x="1012.8" y="446.7" font-size="12" fill="#131722" font-weight="normal" text-anchor="start" textLength="27.3" lengthAdjust="spacingAndGlyphs">40.00</text>
<text x="1012.8" y="485.7" font-size="12" fill="#131722" font-weight="normal" text-anchor="start" textLength="27.3" lengthAdjust="spacingAndGlyphs">20.00</text>
<rect x="1003" y="165" width="62" height="17" rx="2" fill="#1b5e20"/>
<text x="1012.5" y="177.6" font-size="12" fill="#fff" font-weight="normal" text-anchor="start" textLength="46" lengthAdjust="spacingAndGlyphs">22000.00</text>
<rect x="1003" y="210" width="62" height="31" rx="2" fill="#26a69a"/>
<text x="1012.5" y="222.7" font-size="12" fill="#fff" font-weight="normal" text-anchor="start" textLength="46" lengthAdjust="spacingAndGlyphs">19178.02</text>
<text x="1012.5" y="236.2" font-size="12" fill="#fff" font-weight="normal" text-anchor="start" textLength="46" lengthAdjust="spacingAndGlyphs" fill-opacity="0.75">04:50:45</text>
<rect x="1003" y="245" width="62" height="17" rx="2" fill="#f23645"/>
<text x="1012.5" y="257.3" font-size="12" fill="#fff" font-weight="normal" text-anchor="start" textLength="46" lengthAdjust="spacingAndGlyphs">17000.00</text>
<text x="20.6" y="508.8" font-size="12" fill="#131722" font-weight="normal" text-anchor="start" textLength="11.5" lengthAdjust="spacingAndGlyphs">14</text>
<text x="128.8" y="508.8" font-size="12" fill="#131722" font-weight="bold" text-anchor="start" textLength="17" lengthAdjust="spacingAndGlyphs">Jul</text>
<text x="244.4" y="508.8" font-size="12" fill="#131722" font-weight="normal" text-anchor="start" textLength="11" lengthAdjust="spacingAndGlyphs">18</text>
<text x="330.9" y="508.8" font-size="12" fill="#131722" font-weight="bold" text-anchor="start" textLength="20.8" lengthAdjust="spacingAndGlyphs">Aug</text>
<text x="428.2" y="508.8" font-size="12" fill="#131722" font-weight="normal" text-anchor="start" textLength="11.3" lengthAdjust="spacingAndGlyphs">15</text>
<text x="535.8" y="508.8" font-size="12" fill="#131722" font-weight="bold" text-anchor="start" textLength="19" lengthAdjust="spacingAndGlyphs">Sep</text>
<text x="625.4" y="508.8" font-size="12" fill="#131722" font-weight="normal" text-anchor="start" textLength="12" lengthAdjust="spacingAndGlyphs">14</text>
<text x="733.5" y="508.8" font-size="12" fill="#131722" font-weight="bold" text-anchor="start" textLength="17.8" lengthAdjust="spacingAndGlyphs">Oct</text>
<text x="842.5" y="508.8" font-size="12" fill="#131722" font-weight="normal" text-anchor="start" textLength="12" lengthAdjust="spacingAndGlyphs">17</text>
<text x="935.1" y="508.8" font-size="12" fill="#131722" font-weight="bold" text-anchor="start" textLength="21.3" lengthAdjust="spacingAndGlyphs">Nov</text>
<text x="18.8" y="45.9" font-size="12" fill="#131722" font-weight="normal" text-anchor="start" textLength="37.3" lengthAdjust="spacingAndGlyphs">Bitcoin</text>
<text x="62.5" y="45.9" font-size="12" fill="#131722" font-weight="normal" text-anchor="start" textLength="4.3" lengthAdjust="spacingAndGlyphs">/</text>
<text x="71.7" y="45.9" font-size="12" fill="#131722" font-weight="normal" text-anchor="start" textLength="19.7" lengthAdjust="spacingAndGlyphs">U.S.</text>
<text x="97.6" y="45.9" font-size="12" fill="#131722" font-weight="normal" text-anchor="start" textLength="31.5" lengthAdjust="spacingAndGlyphs">Dollar,</text>
<text x="135.1" y="45.9" font-size="12" fill="#131722" font-weight="normal" text-anchor="start" textLength="15.4" lengthAdjust="spacingAndGlyphs">1D,</text>
<text x="155" y="45.9" font-size="12" fill="#131722" font-weight="normal" text-anchor="start" textLength="51.6" lengthAdjust="spacingAndGlyphs">COINBASE</text>
<text x="217.3" y="45.9" font-size="12" fill="#131722" font-weight="normal" text-anchor="start" textLength="7" lengthAdjust="spacingAndGlyphs">O</text>
<text x="226" y="45.9" font-size="12" fill="#26a69a" font-weight="normal" text-anchor="start" textLength="44.2" lengthAdjust="spacingAndGlyphs">19164.92</text>
<text x="280" y="45.9" font-size="12" fill="#131722" font-weight="normal" text-anchor="start" textLength="6" lengthAdjust="spacingAndGlyphs">H</text>
<text x="287.3" y="45.9" font-size="12" fill="#26a69a" font-weight="normal" text-anchor="start" textLength="44.2" lengthAdjust="spacingAndGlyphs">19257.66</text>
<text x="341.7" y="45.9" font-size="12" fill="#131722" font-weight="normal" text-anchor="start" textLength="4.2" lengthAdjust="spacingAndGlyphs">L</text>
<text x="347.7" y="45.9" font-size="12" fill="#26a69a" font-weight="normal" text-anchor="start" textLength="44.2" lengthAdjust="spacingAndGlyphs">19110.46</text>
<text x="401" y="45.9" font-size="12" fill="#131722" font-weight="normal" text-anchor="start" textLength="6.3" lengthAdjust="spacingAndGlyphs">C</text>
<text x="408.7" y="45.9" font-size="12" fill="#26a69a" font-weight="normal" text-anchor="start" textLength="44.2" lengthAdjust="spacingAndGlyphs">19178.02</text>
<text x="462.3" y="45.9" font-size="12" fill="#26a69a" font-weight="normal" text-anchor="start" textLength="80" lengthAdjust="spacingAndGlyphs">+11.57 (+0.06%)</text>
<text x="18.7" y="63.6" font-size="12" fill="#131722" font-weight="normal" text-anchor="start" textLength="15" lengthAdjust="spacingAndGlyphs">Vol</text>
<text x="42.3" y="63.6" font-size="12" fill="#26a69a" font-weight="normal" text-anchor="start" textLength="33.7" lengthAdjust="spacingAndGlyphs">5.963K</text>
<text x="18.7" y="80.3" font-size="12" fill="#131722" font-weight="normal" text-anchor="start" textLength="15" lengthAdjust="spacingAndGlyphs">Vol</text>
<text x="42.3" y="80.3" font-size="12" fill="#26a69a" font-weight="normal" text-anchor="start" textLength="33.7" lengthAdjust="spacingAndGlyphs">5.963K</text>
<text x="18.7" y="97.0" font-size="12" fill="#131722" font-weight="normal" text-anchor="start" textLength="15" lengthAdjust="spacingAndGlyphs">MA</text>
<text x="39.4" y="97.0" font-size="12" fill="#131722" font-weight="normal" text-anchor="start" textLength="18.2" lengthAdjust="spacingAndGlyphs">(21,</text>
<text x="63.6" y="97.0" font-size="12" fill="#131722" font-weight="normal" text-anchor="start" textLength="30.3" lengthAdjust="spacingAndGlyphs">close,</text>
<text x="99.9" y="97.0" font-size="12" fill="#131722" font-weight="normal" text-anchor="start" textLength="9.1" lengthAdjust="spacingAndGlyphs">0)</text>
<text x="118.8" y="97.0" font-size="12" fill="#1b5e20" font-weight="normal" text-anchor="start" textLength="44.7" lengthAdjust="spacingAndGlyphs">19389.97</text>
<text x="18.7" y="114.1" font-size="12" fill="#131722" font-weight="normal" text-anchor="start" textLength="15" lengthAdjust="spacingAndGlyphs">MA</text>
<text x="39.4" y="114.1" font-size="12" fill="#131722" font-weight="normal" text-anchor="start" textLength="12.5" lengthAdjust="spacingAndGlyphs">(9,</text>
<text x="57.6" y="114.1" font-size="12" fill="#131722" font-weight="normal" text-anchor="start" textLength="30.6" lengthAdjust="spacingAndGlyphs">close,</text>
<text x="93.9" y="114.1" font-size="12" fill="#131722" font-weight="normal" text-anchor="start" textLength="9.4" lengthAdjust="spacingAndGlyphs">0)</text>
<text x="112.9" y="114.1" font-size="12" fill="#f23645" font-weight="normal" text-anchor="start" textLength="44.6" lengthAdjust="spacingAndGlyphs">19211.44</text>
<text x="18.1" y="391.7" font-size="12" fill="#131722" font-weight="normal" text-anchor="start" textLength="17.1" lengthAdjust="spacingAndGlyphs">RSI</text>
<text x="39.4" y="391.7" font-size="12" fill="#131722" font-weight="normal" text-anchor="start" textLength="17.1" lengthAdjust="spacingAndGlyphs">(14,</text>
<text x="62.5" y="391.7" font-size="12" fill="#131722" font-weight="normal" text-anchor="start" textLength="30.3" lengthAdjust="spacingAndGlyphs">close,</text>
<text x="99.8" y="391.7" font-size="12" fill="#131722" font-weight="normal" text-anchor="start" textLength="24.9" lengthAdjust="spacingAndGlyphs">SMA,</text>
<text x="131.1" y="391.7" font-size="12" fill="#131722" font-weight="normal" text-anchor="start" textLength="10.7" lengthAdjust="spacingAndGlyphs">14,</text>
<text x="149.9" y="391.7" font-size="12" fill="#131722" font-weight="normal" text-anchor="start" textLength="8.9" lengthAdjust="spacingAndGlyphs">2)</text>
<text x="167.8" y="391.7" font-size="12" fill="#7e57c2" font-weight="normal" text-anchor="start" textLength="27.5" lengthAdjust="spacingAndGlyphs">46.22</text>
<text x="204.2" y="391.7" font-size="12" fill="#f7e24a" font-weight="normal" text-anchor="start" textLength="27.1" lengthAdjust="spacingAndGlyphs">45.73</text>
<ellipse cx="244.0" cy="388" rx="2.55" ry="3.5" fill="none" stroke="#000" stroke-width="1.35"/>
<path d="M242.3 392.7L245.7 383.2" stroke="#000" stroke-width="1.1"/>
<ellipse cx="260.0" cy="388" rx="2.55" ry="3.5" fill="none" stroke="#000" stroke-width="1.35"/>
<path d="M258.3 392.7L261.7 383.2" stroke="#000" stroke-width="1.1"/>
<path d="M10 531.4H17.8V540.6H13.9V535.1H10Z" fill="#131722"/>
<circle cx="20.6" cy="533.1" r="1.7" fill="#131722"/>
<path d="M23.9 531.4H29.4L25.8 540.6H21.1Z" fill="#131722"/>
<text x="33.3" y="540.3" font-size="12.5" fill="#131722" font-weight="normal" text-anchor="start" textLength="70.6" lengthAdjust="spacingAndGlyphs">TradingView</text>
</svg>
</body></html>
